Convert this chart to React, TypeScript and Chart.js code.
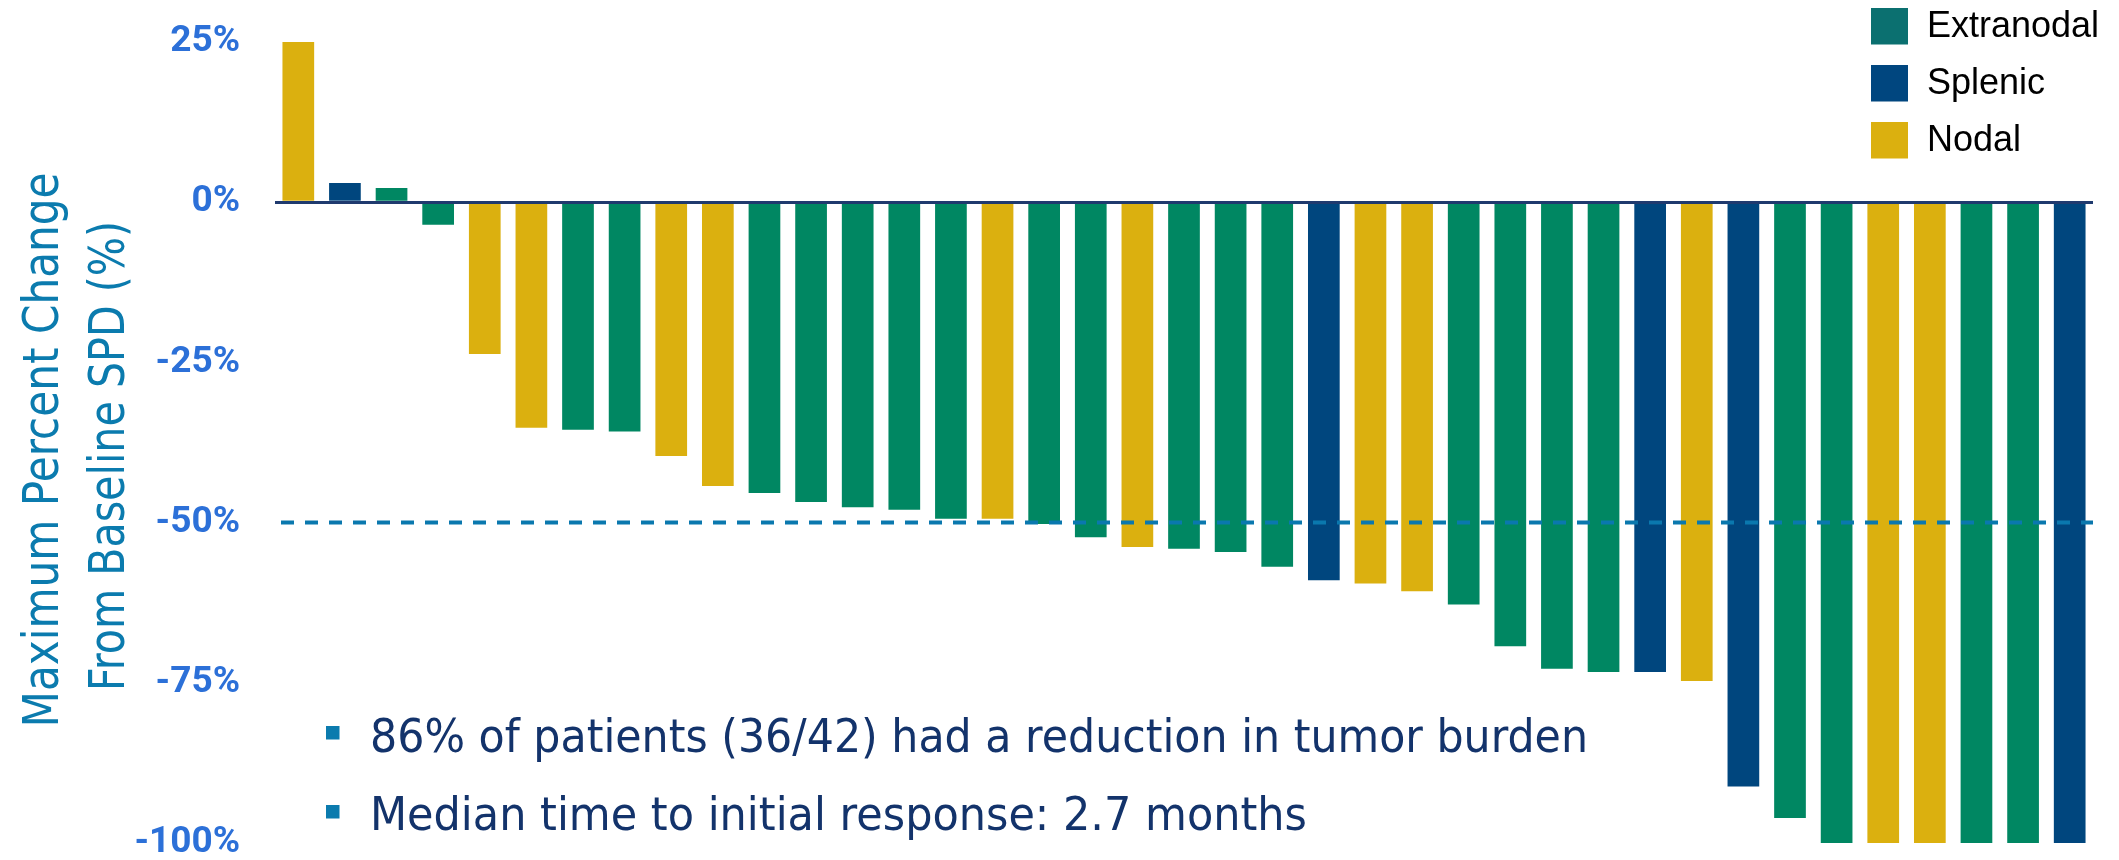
import { useEffect, useRef } from 'react';
import { Chart, registerables } from 'chart.js';

Chart.register(...registerables);

// ---- data ----
const siteNames = ['Extranodal', 'Splenic', 'Nodal'];
// site of each patient bar: E = Extranodal, S = Splenic, N = Nodal
const patientSites = [
  'N', 'S', 'E', 'E', 'N', 'N', 'E', 'E', 'N', 'N',
  'E', 'E', 'E', 'E', 'E', 'N', 'E', 'E', 'N', 'E',
  'E', 'E', 'S', 'N', 'N', 'E', 'E', 'E', 'E', 'S',
  'N', 'S', 'E', 'E', 'N', 'N', 'E', 'E', 'S',
];
const maxChange = [
  25, 3, 2.2, -3.5, -23.7, -35.2, -35.5, -35.8, -39.6, -44.3,
  -45.4, -46.8, -47.6, -48.0, -49.4, -49.4, -50.2, -52.3, -53.8, -54.1,
  -54.6, -56.9, -59.0, -59.5, -60.7, -62.8, -69.3, -72.8, -73.3, -73.3,
  -74.7, -91.2, -96.1, -100, -100, -100, -100, -100, -100,
];
const patientLabels = maxChange.map((_, i) => `Patient ${i + 1}`);
const yTickValues = [25, 0, -25, -50, -75, -100];
const responseThreshold = -50;
const axisTitleLines = ['Maximum Percent Change', 'From Baseline SPD (%)'];
const bulletLines = [
  '86% of patients (36/42) had a reduction in tumor burden',
  'Median time to initial response: 2.7 months',
];

// ---- styles ----
const siteCodes = ['E', 'S', 'N'];
const barColors = ['#008762', '#00467E', '#DBB00F'];
const legendColors = ['#0B7070', '#00467F', '#DBB00F'];
const tickColor = '#2C70D8';
const titleColor = '#0B7BAE';
const bulletTextColor = '#13336B';
const zeroLineColor = '#1F3A6E';

function drawScaledText(ctx: CanvasRenderingContext2D, text: string, width: number) {
  const natural = ctx.measureText(text).width;
  ctx.save();
  ctx.scale(width / natural, 1);
  ctx.fillText(text, 0, 0);
  ctx.restore();
}

const overlayPlugin = {
  id: 'overlay',
  afterDatasetsDraw(chart: any) {
    const { ctx, chartArea } = chart;
    const y = chart.scales.y.getPixelForValue(responseThreshold);
    ctx.save();
    ctx.strokeStyle = '#0A78AE';
    ctx.lineWidth = 4;
    ctx.setLineDash([13, 11]);
    ctx.beginPath();
    ctx.moveTo(chartArea.left + 6, y);
    ctx.lineTo(chartArea.right, y);
    ctx.stroke();
    ctx.restore();
  },
  afterDraw(chart: any) {
    const { ctx } = chart;
    ctx.save();
    // axis title (two rotated lines)
    ctx.fillStyle = titleColor;
    ctx.font = '49px "DejaVu Sans"';
    ctx.textAlign = 'left';
    ctx.textBaseline = 'alphabetic';
    const titleSpecs = [
      { x: 58, cy: 450, len: 555 },
      { x: 124, cy: 456, len: 470 },
    ];
    axisTitleLines.forEach((line, i) => {
      const s = titleSpecs[i];
      ctx.save();
      ctx.translate(s.x, s.cy + s.len / 2);
      ctx.rotate(-Math.PI / 2);
      drawScaledText(ctx, line, s.len);
      ctx.restore();
    });

    // bullets
    const bulletSpecs = [
      { top: 726, base: 751.5, width: 1218 },
      { top: 805, base: 829.5, width: 937 },
    ];
    ctx.font = '47px "DejaVu Sans"';
    bulletLines.forEach((line, i) => {
      const s = bulletSpecs[i];
      ctx.fillStyle = titleColor;
      ctx.fillRect(326, s.top, 13.5, 13.5);
      ctx.fillStyle = bulletTextColor;
      ctx.save();
      ctx.translate(370, s.base);
      drawScaledText(ctx, line, s.width);
      ctx.restore();
    });

    // legend
    ctx.font = '36px "Liberation Sans", Arial, sans-serif';
    ctx.textAlign = 'left';
    ctx.textBaseline = 'alphabetic';
    chart.data.datasets.forEach((ds: any, i: number) => {
      const top = 8 + i * 57;
      ctx.fillStyle = legendColors[i];
      ctx.fillRect(1871, top, 37, 36.5);
      ctx.fillStyle = '#000000';
      ctx.fillText(ds.label, 1927, top + 28.5);
    });
    ctx.restore();
  },
};

export default function App() {
  const canvasRef = useRef<HTMLCanvasElement | null>(null);

  useEffect(() => {
    const canvas = canvasRef.current;
    if (!canvas) return;
    const datasets = siteNames.map((name, k) => ({
      label: name,
      data: maxChange.map((v, i) => (patientSites[i] === siteCodes[k] ? v : null)),
      backgroundColor: barColors[k],
      borderWidth: 0,
      grouped: false,
      barPercentage: 0.68,
      categoryPercentage: 1,
    }));
    const chart = new Chart(canvas, {
      type: 'bar',
      data: { labels: patientLabels, datasets },
      plugins: [overlayPlugin],
      options: {
        animation: false,
        responsive: true,
        maintainAspectRatio: false,
        devicePixelRatio: 1,
        layout: { padding: { left: 0, right: 26, top: 42, bottom: 17 } },
        plugins: {
          legend: { display: false },
          tooltip: { enabled: false },
          title: { display: false },
        },
        scales: {
          x: { display: false, offset: true },
          y: {
            min: -100,
            max: 25,
            afterFit: (scale: any) => {
              scale.width = 275;
              scale.paddingTop = 0;
              scale.paddingBottom = 0;
            },
            afterBuildTicks: (scale: any) => {
              scale.ticks = yTickValues.map((v) => ({ value: v }));
            },
            border: { display: false },
            grid: {
              z: 1,
              drawTicks: false,
              lineWidth: 3,
              color: (ctx: any) => (ctx.tick && ctx.tick.value === 0 ? zeroLineColor : 'rgba(0,0,0,0)'),
            },
            ticks: {
              padding: 35,
              color: tickColor,
              font: { family: 'Roboto', weight: 'bold', size: 37 },
              callback: (v: any) => `${v}%`,
            },
          },
        },
      },
    });
    return () => chart.destroy();
  }, []);

  return (
    <div style={{ position: 'fixed', left: 0, top: 0, width: 2119, height: 860, background: '#ffffff' }}>
      <canvas ref={canvasRef} />
    </div>
  );
}
